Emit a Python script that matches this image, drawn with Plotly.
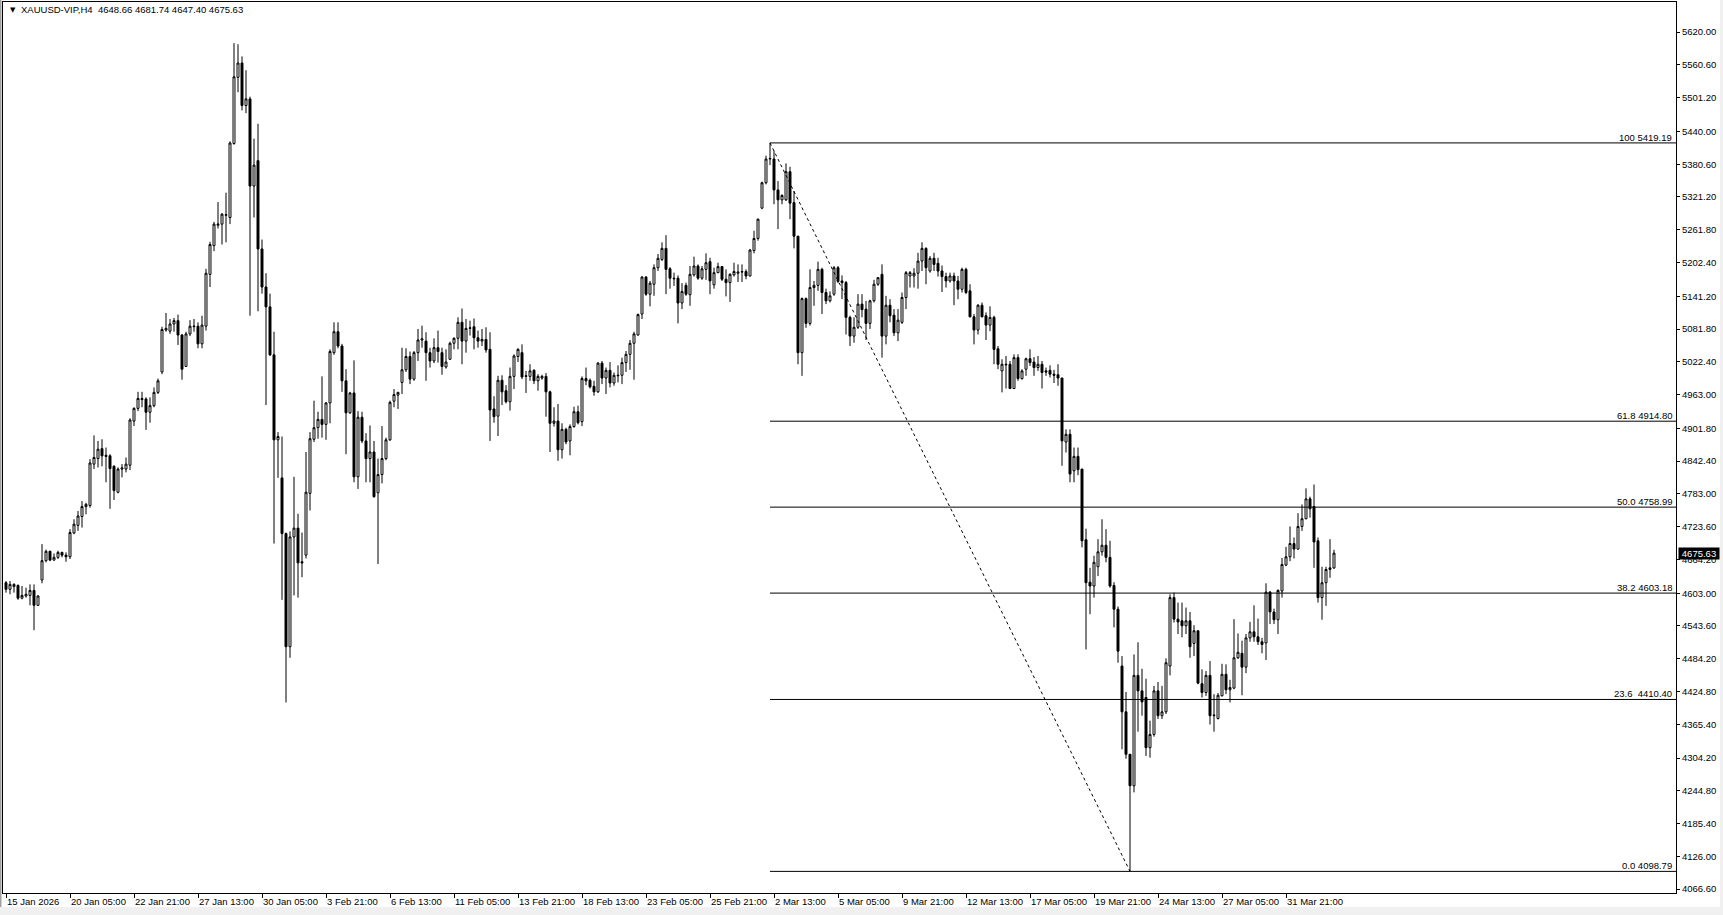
import plotly.graph_objects as go

# ---------------- data ----------------
symbol = "XAUUSD-VIP,H4"

open_ = [4622,4610,4615,4617,4594,4598,4599,4608,4581,4627,4662,4679,4663,4668,4677,4672,4669,4712,4726,4742,
         4760,4762,4837,4847,4865,4853,4852,4833,4786,4828,4828,4835,4915,4938,4956,4955,4931,4943,4967,5004,
         5080,5078,5091,5097,5071,5014,5073,5086,5087,5055,5087,5181,5233,5270,5272,5288,5284,5418,5538,5564,
         5487,5499,5341,5387,5227,5158,5122,5035,4881,4812,4711,4506,4705,4721,4660,4672,4784,4882,4903,4918,
         4909,4948,5039,5077,5051,4988,4930,4966,4814,4922,4879,4847,4859,4785,4818,4847,4881,4951,4962,4985,
         5008,5032,4991,5039,5062,5060,5039,5024,5048,5039,5013,5027,5056,5065,5094,5060,5083,5086,5066,5060,
         5063,5045,4937,4924,4989,4970,4950,4996,5032,5039,4996,4996,5007,4988,4993,4996,4968,4911,4915,4863,
         4900,4879,4905,4932,4914,4992,4989,4978,4968,5020,4993,5007,4984,4997,4998,5021,5036,5056,5071,5109,
         5176,5145,5163,5193,5208,5228,5191,5174,5174,5129,5161,5144,5180,5196,5174,5190,5204,5162,5184,5195,
         5172,5166,5180,5183,5185,5186,5178,5224,5246,5301,5347,5390,5390,5334,5316,5316,5367,5311,5250,5039,
         5137,5092,5157,5161,5190,5148,5133,5145,5193,5169,5166,5103,5069,5085,5127,5118,5092,5133,5163,5181,
         5069,5125,5107,5075,5094,5139,5178,5178,5183,5205,5228,5187,5210,5201,5187,5177,5169,5178,5169,5154,
         5190,5151,5104,5080,5125,5106,5089,5103,5046,5006,5018,5018,4974,5030,4992,5009,5028,5022,5012,5018,
         5006,5007,5000,4999,4993,4877,4891,4825,4851,4828,4700,4623,4616,4651,4678,4690,4668,4617,4574,4471,
         4388,4311,4254,4454,4426,4414,4323,4347,4426,4381,4388,4471,4595,4556,4553,4544,4553,4512,4535,4439,
         4423,4454,4381,4376,4417,4456,4428,4431,4486,4494,4469,4522,4533,4524,4515,4513,4605,4569,4555,4607,
         4654,4669,4693,4683,4724,4738,4774,4760,4698,4595,4622,4646,4648.66]
high = [4625,4625,4621,4619,4616,4613,4619,4619,4599,4692,4682,4680,4675,4680,4678,4677,4719,4737,4752,4770,
        4767,4846,4889,4879,4882,4867,4855,4835,4831,4837,4849,4920,4940,4968,4968,4958,4958,4976,4992,5086,
        5111,5100,5102,5108,5073,5077,5098,5100,5094,5106,5191,5240,5276,5312,5292,5329,5422,5600,5598,5576,
        5551,5503,5427,5454,5244,5183,5146,5077,4895,4887,4713,4715,4814,4747,4713,4859,4895,4952,4932,4996,
        4949,5045,5094,5094,5055,5009,4968,5025,4933,4932,4893,4907,4879,4847,4906,4885,4952,4973,4968,5048,
        5047,5041,5042,5082,5088,5076,5048,5065,5079,5048,5045,5059,5067,5103,5119,5100,5097,5101,5079,5082,
        5085,5076,4960,4997,4998,4980,5012,5036,5047,5054,5006,5018,5009,5000,4999,5002,4970,4940,4946,4911,
        4903,4909,4941,4943,4996,5012,4992,4988,5022,5024,5012,5022,5003,5016,5030,5042,5062,5077,5110,5178,
        5178,5169,5199,5218,5239,5252,5194,5184,5179,5165,5166,5196,5213,5199,5196,5219,5211,5193,5202,5196,
        5190,5183,5202,5199,5199,5190,5227,5260,5282,5349,5396,5419.19,5405,5350,5326,5382,5376,5332,5251,5139,
        5139,5190,5169,5204,5193,5155,5150,5196,5196,5179,5169,5106,5103,5145,5145,5133,5135,5171,5175,5199,
        5142,5136,5118,5118,5148,5187,5187,5192,5220,5239,5230,5214,5220,5211,5197,5184,5184,5184,5178,5193,
        5193,5163,5109,5127,5130,5112,5123,5106,5051,5027,5033,5024,5036,5036,5009,5030,5045,5031,5033,5024,
        5012,5016,5008,5018,4993,4900,4900,4867,4867,4828,4720,4649,4671,4701,4737,4719,4698,4623,4579,4489,
        4424,4311,4492,4514,4466,4448,4372,4435,4442,4435,4485,4601,4604,4586,4586,4577,4569,4545,4535,4465,
        4462,4480,4420,4422,4475,4474,4446,4556,4530,4517,4529,4551,4581,4557,4522,4621,4607,4575,4610,4667,
        4687,4724,4704,4748,4764,4793,4778,4800,4704,4651,4651,4701,4681.74]
low = [4604,4601,4604,4591,4592,4595,4581,4536,4580,4621,4659,4661,4662,4665,4668,4660,4665,4710,4716,4722,
       4746,4758,4828,4831,4833,4804,4756,4772,4784,4813,4822,4826,4906,4933,4940,4899,4912,4940,4964,5000,
       5077,5073,5077,5053,4990,5013,5069,5077,5047,5047,5079,5158,5223,5264,5235,5239,5272,5416,5511,5478,
       5473,5106,5284,5114,5146,4944,5033,4693,4812,4591,4405,4486,4599,4595,4632,4666,4753,4877,4883,4885,
       4881,4911,5035,5047,4968,4855,4928,4804,4792,4875,4804,4804,4776,4656,4802,4844,4879,4940,4937,4964,
       5004,4982,4988,5024,5048,4988,5012,5020,5021,4999,5010,5026,5045,5045,5018,5039,5070,5045,5048,5051,
       5039,4879,4912,4888,4944,4947,4934,4973,5022,4991,4966,4988,4982,4970,4990,4923,4859,4905,4843,4847,
       4873,4853,4903,4909,4906,4980,4974,4961,4966,4982,4964,4976,4979,4985,4982,5004,5008,4990,5070,5100,
       5142,5123,5142,5187,5205,5145,5155,5160,5092,5118,5142,5124,5177,5171,5171,5171,5145,5155,5183,5169,
       5141,5131,5177,5167,5167,5172,5177,5219,5242,5299,5344,5379,5308,5263,5308,5314,5281,5228,5018,4997,
       5084,5088,5124,5151,5109,5127,5130,5142,5165,5136,5072,5051,5057,5082,5103,5062,5082,5130,5160,5030,
       5054,5094,5069,5060,5091,5118,5157,5157,5155,5187,5163,5184,5187,5177,5149,5157,5166,5125,5136,5148,
       5145,5103,5054,5072,5103,5062,5078,5018,5009,4967,4974,4973,4973,4988,4990,4997,5015,4997,5006,4974,
       4997,4994,4984,4979,4834,4858,4804,4804,4817,4686,4501,4565,4595,4634,4671,4659,4613,4541,4477,4320,
       4303,4098.79,4242,4352,4381,4308,4305,4343,4375,4375,4384,4454,4550,4529,4523,4529,4486,4489,4438,4414,
       4417,4365,4352,4374,4416,4420,4405,4429,4484,4418,4458,4515,4515,4509,4494,4482,4547,4547,4529,4595,
       4652,4661,4666,4682,4716,4737,4740,4649,4586,4555,4580,4631,4647.40]
close = [4610,4619,4619,4594,4599,4601,4608,4581,4598,4662,4679,4663,4668,4677,4672,4669,4713,4728,4743,4760,
         4764,4839,4849,4864,4852,4851,4829,4789,4828,4830,4837,4917,4938,4956,4954,4931,4943,4967,4988,5081,
         5083,5091,5097,5071,5009,5073,5087,5087,5055,5089,5183,5235,5272,5272,5290,5289,5419,5539,5564,5487,
         5499,5341,5379,5227,5158,5122,5035,4881,4887,4711,4506,4705,4721,4658,4658,4786,4883,4903,4918,4909,
         4948,5041,5077,5051,4988,4930,4966,4814,4922,4879,4847,4859,4778,4818,4847,4881,4949,4963,4967,5008,
         5032,4991,5039,5062,5064,5039,5024,5048,5041,5014,5022,5056,5065,5094,5060,5083,5084,5066,5060,5063,
         5044,4935,4923,4989,4968,4950,4996,5033,5045,4995,4997,5006,4988,4996,4996,4968,4911,4915,4863,4900,
         4877,4905,4932,4912,4992,4988,4977,4968,5020,4993,5007,4984,4998,4998,5021,5036,5056,5073,5108,5176,
         5145,5165,5193,5210,5228,5190,5174,5173,5129,5150,5145,5181,5196,5174,5191,5202,5169,5184,5195,5172,
         5166,5181,5186,5185,5186,5178,5225,5246,5281,5347,5390,5391,5334,5316,5324,5367,5310,5250,5039,5137,
         5092,5157,5161,5190,5148,5133,5142,5193,5168,5166,5103,5069,5085,5127,5117,5092,5133,5163,5175,5069,
         5125,5106,5075,5098,5139,5184,5184,5183,5205,5228,5193,5210,5199,5187,5177,5169,5178,5169,5154,5190,
         5148,5104,5080,5125,5104,5089,5103,5045,5018,5018,5017,4974,5030,4992,5006,5028,5021,5012,5018,5003,
         5004,5000,4998,4993,4879,4891,4819,4851,4827,4698,4622,4616,4659,4678,4690,4668,4616,4574,4498,4388,
         4311,4254,4454,4426,4406,4323,4347,4426,4381,4388,4477,4595,4556,4551,4544,4553,4506,4535,4440,4423,
         4454,4381,4382,4418,4456,4428,4432,4486,4496,4469,4522,4533,4524,4515,4510,4605,4569,4555,4608,4655,
         4669,4693,4683,4724,4738,4774,4756,4696,4595,4622,4646,4649,4675.63]

time_labels = ["15 Jan 2026", "20 Jan 05:00", "22 Jan 21:00", "27 Jan 13:00", "30 Jan 05:00",
               "3 Feb 21:00", "6 Feb 13:00", "11 Feb 05:00", "13 Feb 21:00", "18 Feb 13:00",
               "23 Feb 05:00", "25 Feb 21:00", "2 Mar 13:00", "5 Mar 05:00", "9 Mar 21:00",
               "12 Mar 13:00", "17 Mar 05:00", "19 Mar 21:00", "24 Mar 13:00", "27 Mar 05:00",
               "31 Mar 21:00"]
bars_per_label = 16

price_ticks = [5620.00, 5560.60, 5501.20, 5440.00, 5380.60, 5321.20, 5261.80, 5202.40, 5141.20,
               5081.80, 5022.40, 4963.00, 4901.80, 4842.40, 4783.00, 4723.60, 4664.20, 4603.00,
               4543.60, 4484.20, 4424.80, 4365.40, 4304.20, 4244.80, 4185.40, 4126.00, 4066.60]

fib_high, fib_low = 5419.19, 4098.79
fib_high_bar, fib_low_bar = 191, 281
fib_ratios = [100.0, 61.8, 50.0, 38.2, 23.6, 0.0]
fib_texts = ["100", "61.8", "50.0", "38.2", "23.6\u00a0", "0.0"]

# ---------------- layout geometry ----------------
W, H = 1723, 915
PL, PR, PT, PB = 3, 1676, 2, 893
y_top, y_bot = 5674.6, 4059.6
x_left, x_right = -0.75, 417.5
FONT = "Liberation Sans, Arial, sans-serif"
FS = 9.5


def px2x(px):
    return (px - PL) / (PR - PL)


def py2y(py):
    return (PB - py) / (PB - PT)


n = len(close)
xs = list(range(n))

fig = go.Figure()
fig.add_trace(go.Candlestick(
    x=xs, open=open_, high=high, low=low, close=close,
    increasing=dict(line=dict(color="black", width=1), fillcolor="white"),
    decreasing=dict(line=dict(color="black", width=1), fillcolor="black"),
    whiskerwidth=0, showlegend=False, hoverinfo="skip",
))

shapes = []
annotations = []

# Fibonacci levels
for r, t in zip(fib_ratios, fib_texts):
    lvl = fib_low + r / 100.0 * (fib_high - fib_low)
    shapes.append(dict(type="line", xref="x", yref="y", x0=fib_high_bar, x1=x_right,
                       y0=lvl, y1=lvl, line=dict(color="black", width=1)))
    annotations.append(dict(xref="paper", yref="y", x=px2x(PR - 2), y=lvl,
                            xanchor="right", yanchor="bottom", showarrow=False,
                            text=f"{t} {lvl:.2f}", yshift=-2,
                            font=dict(family=FONT, size=FS, color="black")))
# fib trend line
shapes.append(dict(type="line", xref="x", yref="y", x0=fib_high_bar, y0=fib_high,
                   x1=fib_low_bar, y1=fib_low, line=dict(color="black", width=1, dash="dot")))

# window border strips
shapes.append(dict(type="rect", xref="paper", yref="paper", x0=px2x(0), x1=px2x(1.5),
                   y0=py2y(H), y1=py2y(0), fillcolor="#A0A0A0", line=dict(width=0), layer="above"))
shapes.append(dict(type="rect", xref="paper", yref="paper", x0=px2x(1720), x1=px2x(W),
                   y0=py2y(H), y1=py2y(0), fillcolor="#F0F0F0", line=dict(width=0), layer="above"))
shapes.append(dict(type="rect", xref="paper", yref="paper", x0=px2x(0), x1=px2x(W),
                   y0=py2y(H), y1=py2y(907), fillcolor="#F0F0F0", line=dict(width=0), layer="above"))

# header
annotations.append(dict(xref="paper", yref="paper", x=px2x(8), y=py2y(10), xanchor="left",
                        yanchor="middle", showarrow=False, text="\u25bc",
                        font=dict(family="DejaVu Sans", size=7, color="black")))
last = n - 1
annotations.append(dict(xref="paper", yref="paper", x=px2x(19), y=py2y(10), xanchor="left",
                        yanchor="middle", showarrow=False,
                        text=f"{symbol}\u00a0\u00a0{open_[last]:.2f} {high[last]:.2f} {low[last]:.2f} {close[last]:.2f}",
                        font=dict(family=FONT, size=FS, color="black")))
# current price label
annotations.append(dict(xref="paper", yref="y", x=px2x(PR + 2), y=close[last], xanchor="left",
                        yanchor="middle", showarrow=False, text=f"{close[last]:.2f}",
                        bgcolor="black", borderpad=1, width=38, height=9,
                        font=dict(family=FONT, size=FS, color="white")))

fig.update_layout(
    width=W, height=H,
    margin=dict(l=PL, r=W - PR, t=PT, b=H - PB, pad=0),
    paper_bgcolor="white", plot_bgcolor="white",
    showlegend=False,
    shapes=shapes, annotations=annotations,
    xaxis=dict(range=[x_left, x_right],
               tickvals=[i * bars_per_label for i in range(len(time_labels))],
               ticktext=time_labels, ticks="outside", ticklen=4, tickcolor="black",
               ticklabelposition="outside right", tickangle=0,
               tickfont=dict(family=FONT, size=FS, color="black"),
               showgrid=False, zeroline=False, showline=True, linecolor="black",
               linewidth=1, mirror=True, rangeslider=dict(visible=False),
               automargin=False, fixedrange=True),
    yaxis=dict(side="right", range=[y_bot, y_top], tickvals=price_ticks,
               ticktext=[f"{v:.2f}" for v in price_ticks], ticks="outside", ticklen=3,
               tickcolor="black", tickfont=dict(family=FONT, size=FS, color="black"),
               showgrid=False, zeroline=False, showline=True, linecolor="black",
               linewidth=1, mirror=True, automargin=False, fixedrange=True),
)

fig.write_html("out.html", config={"displayModeBar": False},
               post_script="document.body.style.margin='0';document.body.style.overflow='hidden';")
